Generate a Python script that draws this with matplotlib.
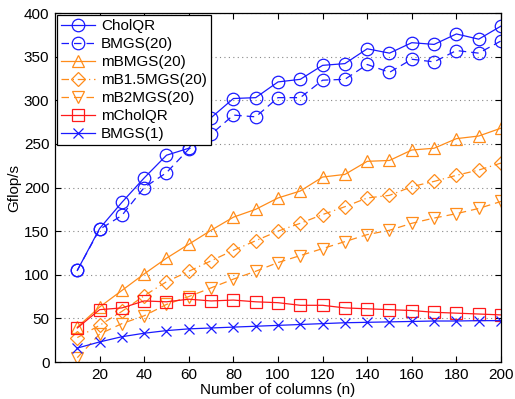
import matplotlib
matplotlib.use('Agg')

import numpy as np
import matplotlib.pyplot as plt

plt.rcParams['font.family'] = ['Liberation Sans', 'DejaVu Sans']

# ===============================
# Data
# ===============================

ncols = list(range(10, 210, 10))

cholqr = [105, 153, 183, 211, 237, 245, 280, 302, 303, 321,
          324, 340, 342, 359, 354, 366, 364, 376, 370, 385]
bmgs20 = [105, 152, 168, 200, 217, 244, 261, 283, 281, 303,
          303, 323, 324, 341, 332, 347, 344, 357, 354, 368]
mbmgs20 = [40, 63, 82, 101, 119, 135, 151, 166, 175, 188,
           196, 212, 215, 230, 231, 243, 245, 256, 259, 268]
mb15mgs20 = [28, 42, 58, 76, 92, 104, 116, 128, 139, 150,
             159, 169, 178, 188, 191, 201, 207, 214, 220, 228]
mb2mgs20 = [5, 32, 44, 53, 66, 75, 85, 95, 104, 114,
            122, 130, 138, 146, 151, 159, 165, 170, 176, 184]
mcholqr = [39, 60, 62, 70, 69, 72, 70, 71, 69, 68,
           65, 65, 62, 61, 60, 59, 57, 56, 55, 54]
bmgs1 = [16, 23, 29, 33, 36, 38, 39, 40, 41, 42,
         43, 44, 45, 45.5, 46, 46.5, 47, 47, 47.4, 47.4]

xticks = list(range(20, 220, 20))
yticks = list(range(0, 450, 50))

# ===============================
# Plot
# ===============================

blue = '#1a1aff'
orange = '#ff8c1a'
red = '#ff1a1a'

fig = plt.figure(figsize=(5.15, 3.99), dpi=100)
ax = fig.add_axes([0.1068, 0.0927, 0.8660, 0.8747])

common = dict(markersize=9, markerfacecolor='none', linewidth=0.9,
              markeredgewidth=0.9)

ax.plot(ncols, cholqr, '-', marker='o', color=blue, label='CholQR', **common)
ax.plot(ncols, bmgs20, '--', marker='o', color=blue, label='BMGS(20)',
        dashes=(6, 4), **common)
ax.plot(ncols, mbmgs20, '-', marker='^', color=orange, label='mBMGS(20)',
        **common)
ax.plot(ncols, mb15mgs20, '-.', marker='D', color=orange,
        label='mB1.5MGS(20)', dashes=(6, 3, 1, 3), markersize=7.5,
        markerfacecolor='none', linewidth=0.9, markeredgewidth=0.9)
ax.plot(ncols, mb2mgs20, '--', marker='v', color=orange, label='mB2MGS(20)',
        dashes=(6, 4), **common)
ax.plot(ncols, mcholqr, '-', marker='s', color=red, label='mCholQR',
        **common)
ax.plot(ncols, bmgs1, '-', marker='x', color=blue, label='BMGS(1)',
        markersize=7, linewidth=0.9, markeredgewidth=0.9)

ax.set_xlim(0, 200)
ax.set_ylim(0, 400)
ax.set_xticks(xticks)
ax.set_yticks(yticks)
ax.tick_params(direction='in', top=True, right=True, labelsize=11,
               length=4, width=0.8, pad=4)
ax.yaxis.grid(True, linestyle=(0, (1, 3)), color='#888888', linewidth=0.8)
ax.set_axisbelow(True)
for s in ax.spines.values():
    s.set_linewidth(0.9)

ax.set_xlabel('Number of columns (n)', fontsize=11, labelpad=1)
ax.set_ylabel('Gflop/s', fontsize=11, labelpad=2)

leg = ax.legend(loc='upper left', fontsize=11, fancybox=False,
                framealpha=1, edgecolor='black', borderaxespad=0.15,
                handlelength=2.2, borderpad=0.25, labelspacing=0.26,
                handletextpad=0.4)
leg.get_frame().set_linewidth(0.9)

plt.savefig('out.png', dpi=100)
